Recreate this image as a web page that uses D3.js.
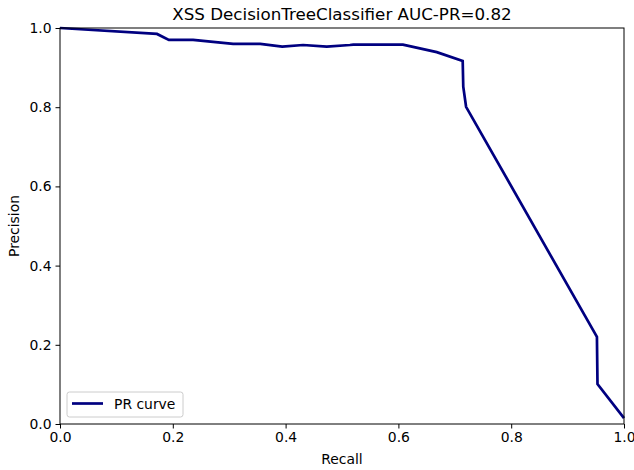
<!DOCTYPE html>
<html>
<head>
<meta charset="utf-8">
<script src="https://cdn.jsdelivr.net/npm/d3@7"></script>
<style>
  body { margin: 0; background: #fff; }
  text { font-family: "DejaVu Sans", sans-serif; }
</style>
</head>
<body>
<svg id="chart" width="634" height="470"></svg>
<script>
// PR curve values
var recall = [0, 0.172, 0.193, 0.236, 0.307, 0.355, 0.394, 0.431, 0.473, 0.514, 0.520, 0.608, 0.668, 0.714, 0.715, 0.720, 0.952, 0.953, 1.0];
var precision = [1.0, 0.985, 0.970, 0.970, 0.960, 0.960, 0.953, 0.957, 0.953, 0.957, 0.958, 0.958, 0.939, 0.917, 0.852, 0.801, 0.220, 0.101, 0.015];
var tickValues = [0, 0.2, 0.4, 0.6, 0.8, 1.0];

var title = "XSS DecisionTreeClassifier AUC-PR=0.82";

var svg = d3.select("#chart");
var mLeft = 60, mRight = 624, mTop = 28, mBottom = 424;

var x = d3.scaleLinear().domain([0, 1]).range([mLeft, mRight]);
var y = d3.scaleLinear().domain([0, 1]).range([mBottom, mTop]);

var pts = recall.map(function(r, i) { return [r, precision[i]]; });

var line = d3.line()
    .x(function(d) { return x(d[0]); })
    .y(function(d) { return y(d[1]); });

svg.append("path")
    .datum(pts)
    .attr("fill", "none")
    .attr("stroke", "#000080")
    .attr("stroke-width", 2.7)
    .attr("stroke-linejoin", "miter")
    .attr("d", line);

// frame
svg.append("rect")
    .attr("x", mLeft).attr("y", mTop)
    .attr("width", mRight - mLeft).attr("height", mBottom - mTop)
    .attr("fill", "none").attr("stroke", "#000").attr("stroke-width", 1);

var fmt = d3.format(".1f");

var xa = svg.append("g")
    .attr("transform", "translate(0," + mBottom + ")")
    .call(d3.axisBottom(x).tickValues(tickValues).tickFormat(fmt).tickSize(4.5).tickPadding(4));
var ya = svg.append("g")
    .attr("transform", "translate(" + mLeft + ",0)")
    .call(d3.axisLeft(y).tickValues(tickValues).tickFormat(fmt).tickSize(4.5).tickPadding(4));

[xa, ya].forEach(function(a) {
    a.select(".domain").remove();
    a.selectAll("text").attr("font-size", "13.9px").attr("fill", "#000").style("font-family", "DejaVu Sans");
    a.selectAll("line").attr("stroke", "#000");
});

svg.append("text")
    .attr("x", (mLeft + mRight) / 2).attr("y", 20)
    .attr("text-anchor", "middle")
    .attr("font-size", "16.7px")
    .text(title);

svg.append("text")
    .attr("x", (mLeft + mRight) / 2).attr("y", 464)
    .attr("text-anchor", "middle")
    .attr("font-size", "13.9px")
    .text("Recall");

svg.append("text")
    .attr("transform", "translate(19," + (mTop + mBottom) / 2 + ") rotate(-90)")
    .attr("text-anchor", "middle")
    .attr("font-size", "13.9px")
    .text("Precision");

// legend
var lg = svg.append("g");
lg.append("rect")
    .attr("x", 67).attr("y", 392).attr("width", 116).attr("height", 25)
    .attr("rx", 2.5)
    .attr("fill", "#fff").attr("fill-opacity", 0.8)
    .attr("stroke", "#ccc").attr("stroke-width", 1);
lg.append("line")
    .attr("x1", 72).attr("x2", 103).attr("y1", 403.5).attr("y2", 403.5)
    .attr("stroke", "#000080").attr("stroke-width", 2.7);
lg.append("text")
    .attr("x", 114).attr("y", 409)
    .attr("font-size", "13.9px")
    .text("PR curve");
</script>
</body>
</html>
